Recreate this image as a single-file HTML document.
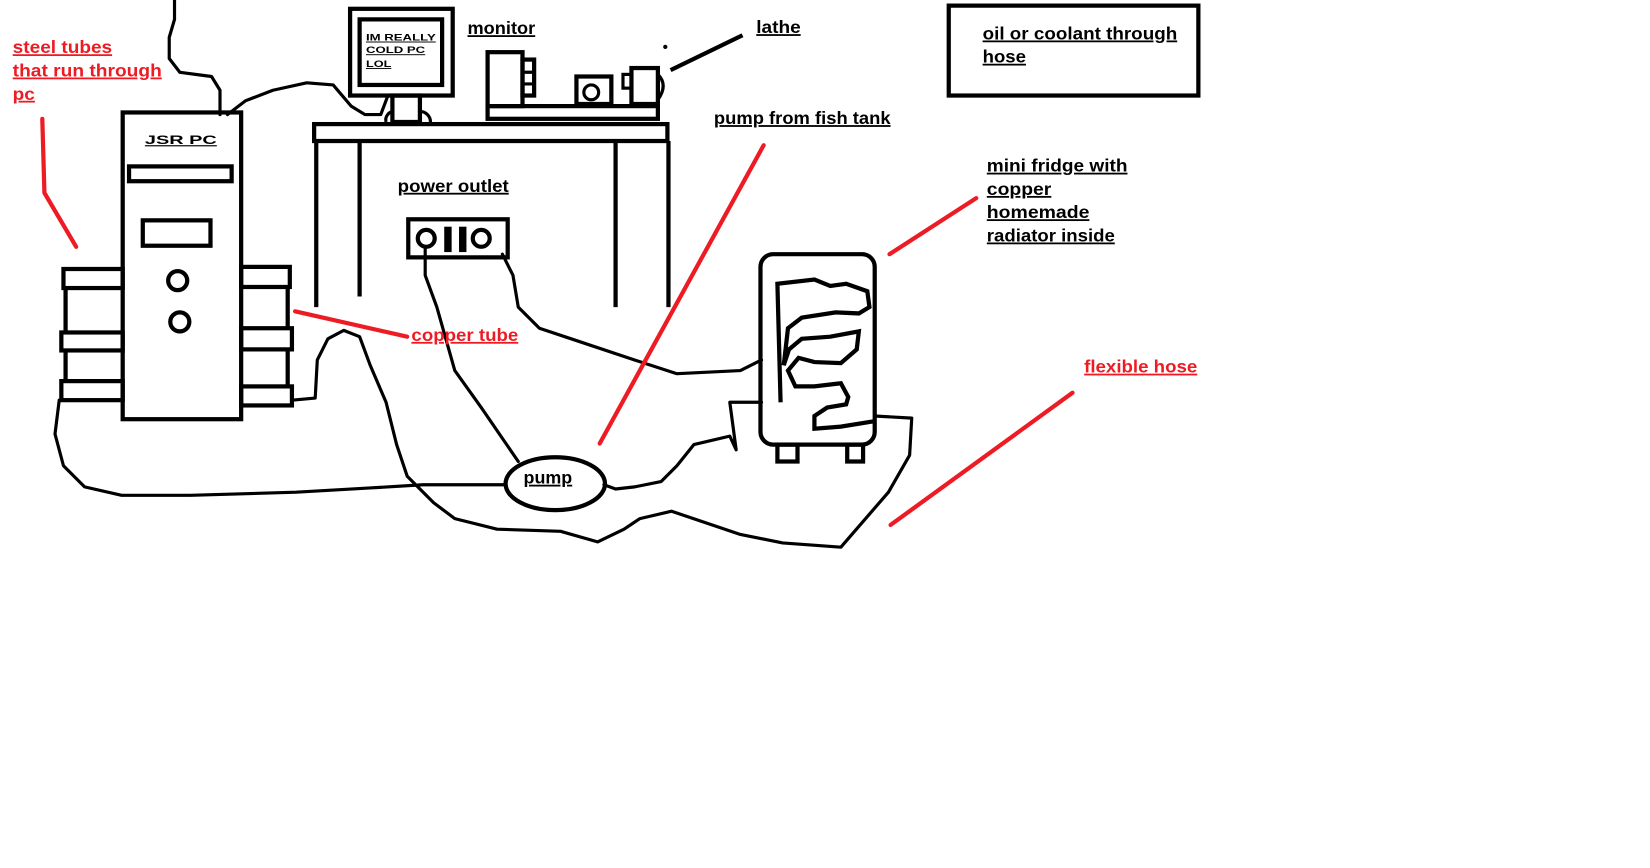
<!DOCTYPE html>
<html><head><meta charset="utf-8"><style>
html,body{margin:0;padding:0;background:#fff;width:1650px;height:868px;overflow:hidden}
svg{display:block}
text{font-family:"Liberation Sans",sans-serif;font-weight:bold;font-size:17px;text-decoration:underline}
.r{fill:#ed1c24}
.s{font-size:9px}
</style></head><body>
<svg width="1650" height="868" viewBox="0 0 1560 820" xmlns="http://www.w3.org/2000/svg">
<g fill="none" stroke="#000" stroke-width="3" stroke-linejoin="round" stroke-linecap="round">
<path d="M165,0 L165,18 L160,35 L160,55 L170,68 L200,72 L208,85 L208,108"/>
<path d="M215,108 L232,95 L258,85 L290,78 L315,80 L332,100 L345,108 L360,108 L366,92"/>
<path d="M402,233 L402,260 L413,290 L430,350 L455,385 L490,436"/>
<path d="M475,240 L485,260 L490,290 L510,310 L540,320 L600,340 L640,353 L700,350 L720,340"/>
<path d="M478,458 L400,458 L350,461 L280,465 L180,468 L115,468 L80,460 L60,440 L52,410 L56,378"/>
<path d="M571,458 L582,462 L600,460 L625,455 L640,440 L656,420 L690,412 L696,425 L690,380 L720,380"/>
<path d="M276,378 L298,376 L300,340 L310,320 L325,312 L340,318 L350,345 L365,380 L375,420 L385,450 L410,475 L430,490 L470,500 L530,502 L565,512 L590,500 L605,490 L635,483 L700,505 L740,513 L795,517 L840,465 L860,430 L862,395 L827,393"/>
</g>
<g fill="none" stroke="#000" stroke-width="4">
<rect x="331" y="8" width="97" height="82"/>
<rect x="340" y="18" width="78" height="62"/>
<rect x="371" y="90" width="26" height="25"/>
<path d="M365,115 A8,8 0 0 1 373,105 M397,105 A10,10 0 0 1 407,115" stroke-width="3"/>
<rect x="297" y="117" width="334" height="16"/>
<path d="M299,133 V290 M340,133 V280 M582,133 V290 M632,133 V290"/>
<rect x="461" y="49" width="33" height="51"/>
<rect x="494" y="56" width="11" height="34"/>
<path d="M494,68 H505 M494,79 H505" stroke-width="3"/>
<rect x="461" y="100" width="161" height="12"/>
<rect x="545" y="72" width="33" height="26"/>
<circle cx="559" cy="87" r="7" stroke-width="3"/>
<rect x="597" y="64" width="25" height="34"/>
<rect x="589" y="70" width="8" height="13" stroke-width="3"/>
<path d="M622,70 Q632,80 622,94" stroke-width="3"/>
<path d="M634,66 L702,33"/>
<rect x="897" y="5" width="236" height="85"/>
<rect x="116" y="106" width="112" height="290"/>
<rect x="122" y="157" width="97" height="14"/>
<rect x="135" y="208" width="64" height="24"/>
<circle cx="168" cy="265" r="9"/>
<circle cx="170" cy="304" r="9"/>
<rect x="60" y="254" width="56" height="18"/>
<rect x="58" y="314" width="58" height="17"/>
<rect x="58" y="360" width="58" height="18"/>
<path d="M62,272 V314 M62,331 V360"/>
<rect x="228" y="252" width="46" height="19"/>
<rect x="228" y="310" width="48" height="20"/>
<rect x="228" y="365" width="48" height="18"/>
<path d="M272,271 V310 M272,330 V365"/>
<rect x="386" y="207" width="94" height="36"/>
<circle cx="403" cy="225" r="8"/>
<circle cx="455" cy="225" r="8"/>
<ellipse cx="525" cy="457" rx="47" ry="25"/>
<rect x="719" y="240" width="108" height="180" rx="12"/>
<rect x="735" y="420" width="19" height="16"/>
<rect x="801" y="420" width="15" height="16"/>
<path d="M738,380 L735,268 L770,264 L785,270 L800,268 L820,275 L822,290 L812,296 L790,295 L758,300 L745,310 L741,345 L746,330 L758,320 L785,318 L812,313 L810,330 L795,343 L770,342 L755,338 L745,350 L752,365 L770,365 L795,362 L802,375 L800,382 L782,385 L770,393 L770,405 L795,403 L826,398"/>
</g>
<rect x="420" y="214" width="7" height="24"/>
<rect x="434" y="214" width="7" height="24"/>
<circle cx="629" cy="44" r="2"/>
<g stroke="#ed1c24" stroke-width="4" fill="none" stroke-linecap="round">
<path d="M40,112 L42,182 L72,233"/>
<path d="M279,294 L385,318"/>
<path d="M722,137 L567,419"/>
<path d="M923,187 L841,240"/>
<path d="M1014,371 L842,496"/>
</g>
<text class="s" x="346" y="38" textLength="66" lengthAdjust="spacingAndGlyphs">IM REALLY</text>
<text class="s" x="346" y="50" textLength="56" lengthAdjust="spacingAndGlyphs">COLD PC</text>
<text class="s" x="346" y="63" textLength="24" lengthAdjust="spacingAndGlyphs">LOL</text>
<text x="137" y="136" style="font-size:11px" textLength="68" lengthAdjust="spacingAndGlyphs">JSR PC</text>
<text x="442" y="32" textLength="64" lengthAdjust="spacingAndGlyphs">monitor</text>
<text x="715" y="31" textLength="42" lengthAdjust="spacingAndGlyphs">lathe</text>
<text x="929" y="37" textLength="184" lengthAdjust="spacingAndGlyphs">oil or coolant through </text>
<text x="929" y="59" textLength="41" lengthAdjust="spacingAndGlyphs">hose</text>
<text x="675" y="117" textLength="167" lengthAdjust="spacingAndGlyphs">pump from fish tank</text>
<text x="933" y="162" textLength="133" lengthAdjust="spacingAndGlyphs">mini fridge with </text>
<text x="933" y="184" textLength="61" lengthAdjust="spacingAndGlyphs">copper </text>
<text x="933" y="206" textLength="97" lengthAdjust="spacingAndGlyphs">homemade </text>
<text x="933" y="228" textLength="121" lengthAdjust="spacingAndGlyphs">radiator inside</text>
<text x="376" y="181" textLength="105" lengthAdjust="spacingAndGlyphs">power outlet</text>
<text x="495" y="457" textLength="46" lengthAdjust="spacingAndGlyphs">pump</text>
<text class="r" x="12" y="50" textLength="94" lengthAdjust="spacingAndGlyphs">steel tubes</text>
<text class="r" x="12" y="72" textLength="141" lengthAdjust="spacingAndGlyphs">that run through </text>
<text class="r" x="12" y="94" textLength="21" lengthAdjust="spacingAndGlyphs">pc</text>
<text class="r" x="389" y="322" textLength="101" lengthAdjust="spacingAndGlyphs">copper tube</text>
<text class="r" x="1025" y="352" textLength="107" lengthAdjust="spacingAndGlyphs">flexible hose</text>
</svg>
</body></html>
